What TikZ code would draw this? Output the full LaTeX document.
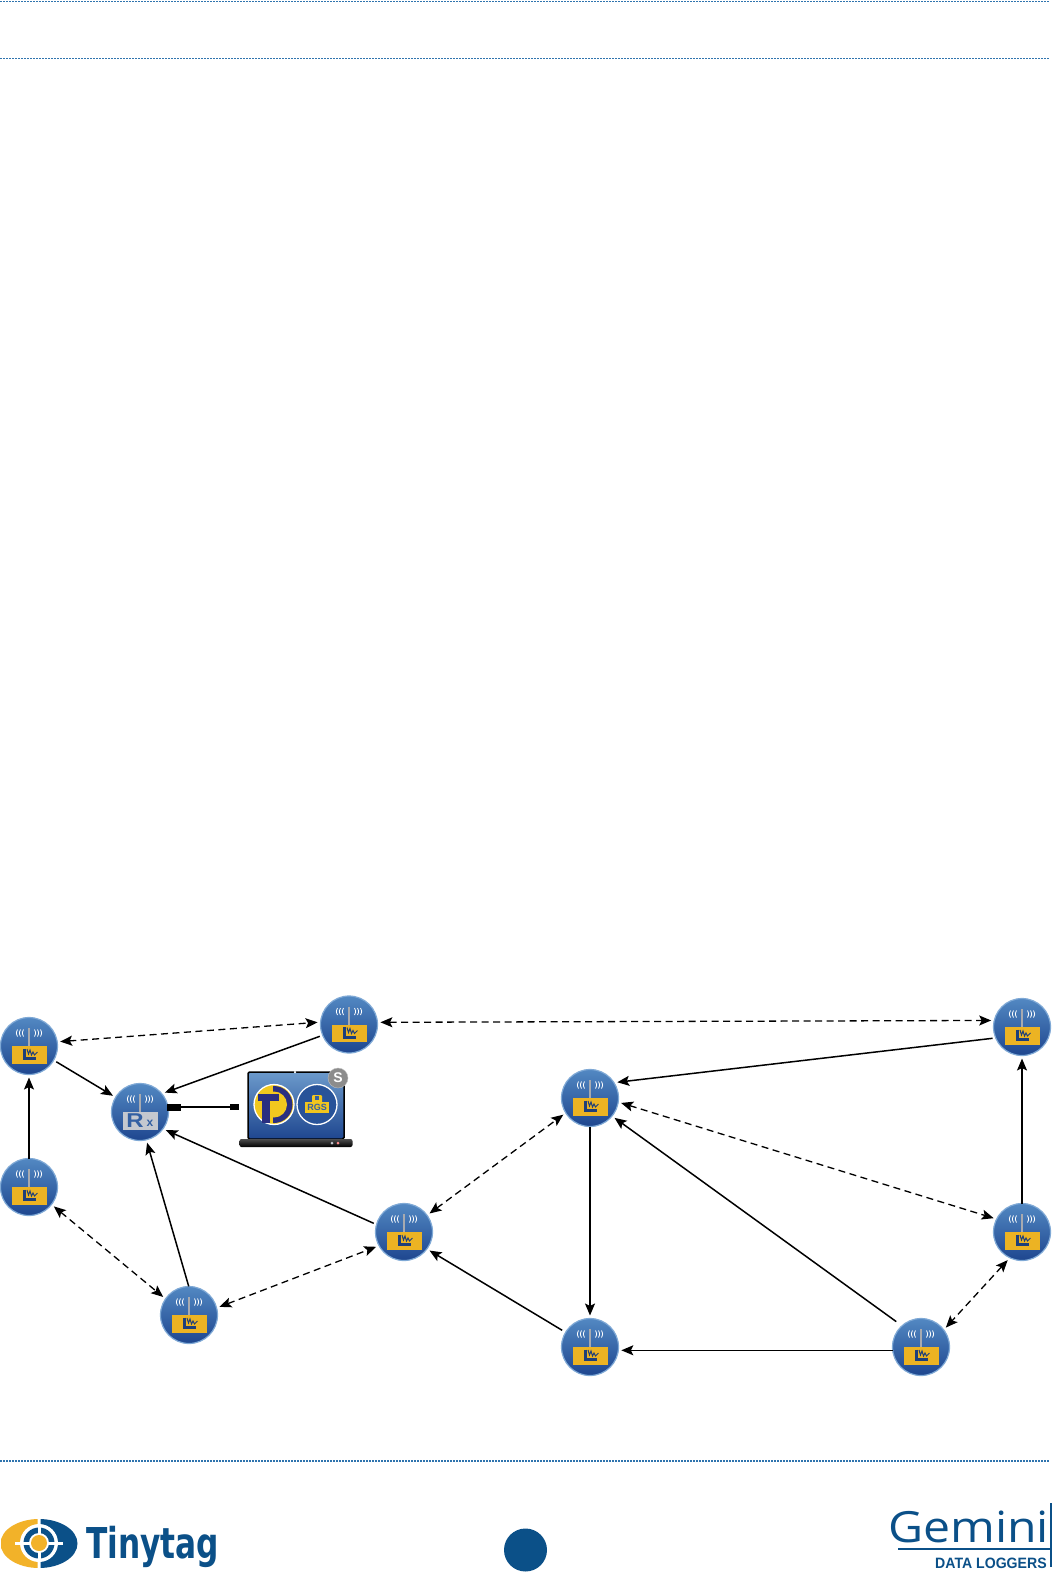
\documentclass[tikz,border=0pt]{standalone}
\usepackage{fontspec}
\setsansfont{Liberation Sans}
\newfontfamily\geminifont{Open Sans}
\newfontfamily\tagfont{DejaVu Sans}
\usetikzlibrary{positioning,arrows.meta}

\definecolor{brandblue}{HTML}{0B5088}
\definecolor{brandgold}{HTML}{F2B229}
\definecolor{discrim}{HTML}{7FA9D6}
\definecolor{disctop}{HTML}{5288C2}
\definecolor{discbot}{HTML}{1E468F}
\definecolor{panelgold}{HTML}{ECB323}
\definecolor{panelgrey}{HTML}{C4C8CF}
\definecolor{plotblue}{HTML}{1E3F7A}
\definecolor{rulecol}{HTML}{2F74AE}
\definecolor{tblue}{HTML}{2A2F80}
\definecolor{tgold}{HTML}{F2C81E}

\newcommand{\antennaglyph}{
  \draw[line width=1.5pt,color=panelgrey!85!black] (0,-18) -- (0,0);
  \foreach \wx in {5,8,11}{
    \draw[white,line width=.8pt] (-\wx-.5,-16.5) .. controls (-\wx-2,-13) .. (-\wx-.5,-9.5);
    \draw[white,line width=.8pt] (\wx+.5,-16.5) .. controls (\wx+2,-13) .. (\wx+.5,-9.5);
  }
}
\tikzset{
  every picture/.style={x=1pt,y=-1pt},
  disc/.style={circle,minimum size=57pt,inner sep=0pt,outer sep=3pt,draw=discrim,line width=1.2pt,top color=disctop,bottom color=discbot},
  logger/.style={disc,path picture={\begin{scope}[shift={(path picture bounding box.center)}]
    \antennaglyph
    \fill[panelgold] (-17.5,0) rectangle (18,17.5);
    \draw[plotblue,line width=3pt] (-5,2.5) -- (-5,12.5) -- (7,12.5);
    \draw[plotblue,line width=1pt] (-2,3) -- (-.5,8) -- (1,4) -- (2.5,9) -- (4,6) -- (5.5,9) -- (8.5,6);
  \end{scope}}},
  receiver/.style={disc,path picture={\begin{scope}[shift={(path picture bounding box.center)}]
    \antennaglyph
    \fill[panelgrey] (-17,0) rectangle (18,18);
  \end{scope}}},
  link/.style={-{Stealth[length=12pt,width=10pt,inset=2.5pt]},line width=1.5pt,black},
  touching/.style={shorten <=-3pt},
  maybe/.style={{Stealth[length=12pt,width=10pt,inset=2.5pt]}-{Stealth[length=12pt,width=10pt,inset=2.5pt]},line width=1.3pt,dash pattern=on 7pt off 4.5pt,black},
  ruleline/.style={rulecol,line width=1.3pt,dash pattern=on 1.5pt off 1.5pt},
  plug/.style={fill=black,inner sep=0pt,outer sep=0pt},
  appcircle/.style={circle,minimum size=40pt,inner sep=0pt,draw=white,line width=1.3pt},
  letter/.style={inner sep=0pt,text=disctop!40!discbot},
}

\begin{document}
\begin{tikzpicture}[on grid]
\useasboundingbox (0,0) rectangle (1059,1576);
\fill[white] (0,0) rectangle (1059,1576);

\draw[ruleline] (0,1.5) -- (1050,1.5);
\draw[ruleline] (0,58.5) -- (1050,58.5);
\draw[ruleline] (0,1461) -- (1050,1461);

\node[receiver] (rx) at (140,1112) {};
\node[logger, above left=66pt and 111pt of rx] (l1) {};
\node[logger, below left=75pt and 111pt of rx] (l2) {};
\node[logger, above right=87.5pt and 209pt of rx] (l3) {};
\node[logger, below right=203pt and 49pt of rx] (l4) {};
\node[logger, above right=83pt and 215pt of l4] (l5) {};
\node[logger, above right=134pt and 186pt of l5] (l6) {};
\node[logger, below=249pt of l6] (l7) {};
\node[logger, right=331pt of l7] (l8) {};
\node[logger, above right=115pt and 101pt of l8] (l9) {};
\node[logger, above=205pt of l9] (l10) {};
\node[letter, font=\sffamily\bfseries\fontsize{20}{20}\selectfont, xscale=1.2, below left=8.5pt and 5pt of rx] (rxR) {R};
\node[letter, font=\sffamily\bfseries\fontsize{12}{12}\selectfont, below right=11.5pt and 10pt of rx] (rxX) {x};

\node[plug, minimum width=14pt, minimum height=7pt, above right=5pt and 34pt of rx] (plugA) {};
\node[plug, minimum width=9pt, minimum height=6pt, right=60.5pt of plugA] (plugB) {};
\draw[line width=1.5pt] (plugA.east) -- (plugB.west);

\node[draw=black, line width=1.5pt, rounded corners=1.5pt, minimum width=96pt, minimum height=67pt, inner sep=0pt, top color=disctop!85!white, bottom color=discbot, right=156pt of rx, yshift=6.5pt] (screen) {};
\node[top color=black!70, bottom color=black, rounded corners=2pt, minimum width=113pt, minimum height=8pt, inner sep=0pt, below=37.5pt of screen] (base) {};
\node[fill=white, circle, minimum size=2.5pt, inner sep=0pt, above=33.5pt of screen, xshift=-1pt] (notch) {};
\node[fill=panelgrey, circle, minimum size=3pt, inner sep=0pt, right=36pt of base] (dotA) {};
\node[fill=red!45!white, circle, minimum size=3pt, inner sep=0pt, right=42pt of base] (dotB) {};
\node[appcircle, fill=tgold, above left=1pt and 22pt of screen] (tlogo) {};
\node[appcircle, fill=discbot!80!disctop, above right=1pt and 21pt of screen] (rgslogo) {};
\node[circle, fill=black!45, draw=black!25, minimum size=20pt, inner sep=0pt, text=white, font=\sffamily\bfseries\fontsize{14}{14}\selectfont, above right=27.5pt and 42pt of screen] (badge) {S};

\begin{scope}[shift={(tlogo.center)}]
\begin{scope}
\clip (-1,-20) rectangle (20,20);
\fill[tblue] (0,0) circle[radius=18.5pt];
\fill[tgold] (0,0) circle[radius=13pt];
\end{scope}
\fill[tblue] (-16,-11) rectangle (5,-4);
\fill[tblue] (-12,-11) rectangle (-4,18);
\end{scope}

\fill[tgold!90!panelgold, rounded corners=1pt] (312,1095) rectangle (322,1103);
\foreach \gx/\gy in {316/1097,318/1097,316/1099,318/1099}{
  \fill[disctop!40!discbot] (\gx-.8,\gy-.8) rectangle (\gx+.8,\gy+.8);
}
\node[fill=tgold!90!panelgold, minimum width=24pt, minimum height=11pt, inner sep=0pt, text=disctop!40!discbot, font=\sffamily\bfseries\fontsize{9}{9}\selectfont, below=3pt of rgslogo] (rgs) {RGS};

\draw[link] (l1.-30) -- (rx.149);
\draw[link, touching] (l2.90) -- (l1.-90);
\draw[link] (l3.202) -- (rx.38);
\draw[link, touching] (l4.92) -- (rx.-77);
\draw[link] (l5.164) -- (rx.-35);
\draw[link, shorten <=1pt] (l7.149) -- (l5.-36);
\draw[link, touching] (l6.-90) -- (l7.90);
\draw[link, touching] (l8.186) -- (l7.-6);
\draw[link, shorten <=4pt] (l8.133) -- (l6.-39);
\draw[link, touching] (l9.90) -- (l10.-90);
\draw[link] (l10.201) -- (l6.30);

\draw[maybe] (l1.8) -- (l3.176);
\draw[maybe] (l3.4) -- (l10.168);
\draw[maybe] (l2.-38) -- (l4.145);
\draw[maybe] (l4.15) -- (l5.208);
\draw[maybe] (l5.36) -- (l6.212);
\draw[maybe] (l6.-9) -- (l9.154);
\draw[maybe] (l9.243) -- (l8.38);

\begin{scope}
\clip (1,1519) rectangle (37.5,1568);
\fill[brandgold] (39,1543.5) ellipse [x radius=38.5pt, y radius=24.5pt];
\end{scope}
\begin{scope}
\clip (40.5,1519) rectangle (78,1568);
\fill[brandblue] (39,1543.5) ellipse [x radius=38.5pt, y radius=24.5pt];
\end{scope}
\fill[white] (39,1543) circle[radius=19pt];
\fill[brandblue] (39,1543) circle[radius=15.5pt];
\fill[white] (39,1543) circle[radius=10pt];
\fill[brandgold] (39,1543) circle[radius=8pt];
\fill[white] (15,1541.5) rectangle (30,1544.5);
\fill[white] (48,1541.5) rectangle (63,1544.5);
\fill[white] (37.5,1524) rectangle (40.5,1534);
\fill[white] (37.5,1552) rectangle (40.5,1562);
\node[anchor=base west, inner sep=0pt, text=brandblue, font=\tagfont\bfseries\fontsize{42.5}{42.5}\selectfont, xscale=.735] (tinytag) at (86,1558) {Tinytag};

\node[circle, fill=brandblue, minimum size=43pt, inner sep=0pt] (pagedot) at (525.5,1550) {};

\node[anchor=base west, inner sep=0pt, text=brandblue, font=\geminifont\fontsize{43}{43}\selectfont, xscale=1.12] (gemini) at (888,1542) {Gemini};
\node[anchor=base west, inner sep=0pt, text=brandblue, font=\sffamily\bfseries\fontsize{15}{15}\selectfont, xscale=.94] (loggers) at (935,1568) {DATA LOGGERS};
\draw[brandblue, line width=1.2pt] (898,1549) -- (1051,1549);
\draw[brandblue, line width=1.2pt] (1051,1503) -- (1051,1567);
\end{tikzpicture}
\end{document}
